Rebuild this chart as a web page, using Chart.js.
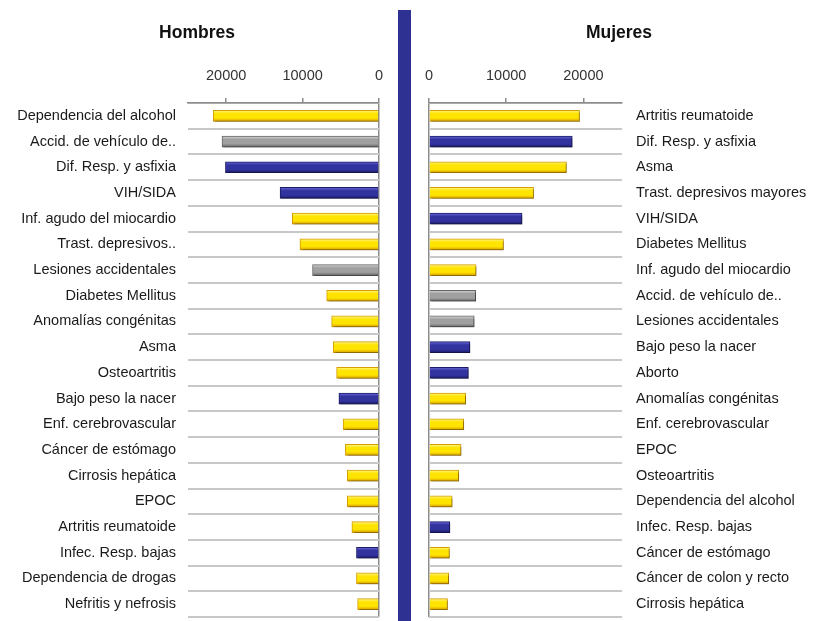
<!DOCTYPE html>
<html>
<head>
<meta charset="utf-8">
<script src="https://cdn.jsdelivr.net/npm/chart.js@4.4.1/dist/chart.umd.min.js"></script>
<style>
  body { margin: 0; background: #fff; width: 815px; height: 621px; overflow: hidden; position: relative; }
  #izq { position: absolute; left: 0; top: 0; }
  #der { position: absolute; left: 415px; top: 0; }
  #barra { position: absolute; left: 398px; top: 10px; width: 13px; height: 611px; background: #2e3192; }
</style>
</head>
<body>
<canvas id="izq" width="397" height="621"></canvas>
<div id="barra"></div>
<canvas id="der" width="400" height="621"></canvas>
<script>
// datos (AVISA por causa)
const ticksX = [0, 10000, 20000];

const causasHombres = ['Dependencia del alcohol', 'Accid. de vehículo de..', 'Dif. Resp. y asfixia', 'VIH/SIDA',
  'Inf. agudo del miocardio', 'Trast. depresivos..', 'Lesiones accidentales', 'Diabetes Mellitus',
  'Anomalías congénitas', 'Asma', 'Osteoartritis', 'Bajo peso la nacer', 'Enf. cerebrovascular',
  'Cáncer de estómago', 'Cirrosis hepática', 'EPOC', 'Artritis reumatoide', 'Infec. Resp. bajas',
  'Dependencia de drogas', 'Nefritis y nefrosis'];
const valoresHombres = [21700, 20550, 20100, 12950, 11350, 10350, 8700, 6850, 6200, 6000,
  5550, 5250, 4700, 4400, 4150, 4150, 3550, 2950, 2950, 2800];
// NT = no transmisibles, T = transmisibles/perinatales, L = lesiones
const grupoHombres = ['NT', 'L', 'T', 'T', 'NT', 'NT', 'L', 'NT', 'NT', 'NT',
  'NT', 'T', 'NT', 'NT', 'NT', 'NT', 'NT', 'T', 'NT', 'NT'];

const causasMujeres = ['Artritis reumatoide', 'Dif. Resp. y asfixia', 'Asma', 'Trast. depresivos mayores',
  'VIH/SIDA', 'Diabetes Mellitus', 'Inf. agudo del miocardio', 'Accid. de vehículo de..',
  'Lesiones accidentales', 'Bajo peso la nacer', 'Aborto', 'Anomalías congénitas', 'Enf. cerebrovascular',
  'EPOC', 'Osteoartritis', 'Dependencia del alcohol', 'Infec. Resp. bajas', 'Cáncer de estómago',
  'Cáncer de colon y recto', 'Cirrosis hepática'];
const valoresMujeres = [19500, 18550, 17800, 13550, 12050, 9650, 6100, 6050, 5850, 5300,
  5100, 4750, 4500, 4150, 3850, 3000, 2700, 2650, 2550, 2400];
const grupoMujeres = ['NT', 'T', 'NT', 'NT', 'T', 'NT', 'NT', 'L', 'L', 'T',
  'T', 'NT', 'NT', 'NT', 'NT', 'NT', 'T', 'NT', 'NT', 'NT'];

// colores por grupo: [claro, medio, oscuro]
const colores = {
  NT: ['#fff68a', '#ffe400', '#d69e00'],
  T: ['#6a6ad8', '#33339f', '#1c1c6a'],
  L: ['#d8d8d8', '#a0a0a0', '#666666']
};

const fuente = { family: "'Liberation Sans', Arial, sans-serif", size: 14.5 };

// sombra de las barras
const sombra = {
  id: 'sombra',
  beforeDatasetsDraw(chart) {
    const c = chart.ctx;
    c.save();
    c.shadowColor = 'rgba(0,0,0,0.35)';
    c.shadowBlur = 2;
    c.shadowOffsetX = 1.5;
    c.shadowOffsetY = 2;
  },
  afterDatasetsDraw(chart) {
    chart.ctx.restore();
  }
};

// titulo de cada lado
const tituloLado = {
  id: 'tituloLado',
  afterDraw(chart, args, opts) {
    const c = chart.ctx;
    c.save();
    c.font = "bold 17.5px 'Liberation Sans', Arial, sans-serif";
    c.fillStyle = '#111';
    c.textAlign = 'center';
    c.textBaseline = 'middle';
    c.fillText(opts.texto, opts.x, opts.y);
    c.restore();
  }
};

function crearGrafico(id, causas, valores, grupos, invertido, titulo, xTitulo) {
  const grosor = 11;
  new Chart(document.getElementById(id), {
    type: 'bar',
    data: {
      labels: causas,
      datasets: [{
        data: valores,
        barThickness: grosor,
        backgroundColor(ctx) {
          const cols = colores[grupos[ctx.dataIndex]];
          const chart = ctx.chart;
          if (!chart.chartArea) return cols[1];
          const yc = chart.scales.y.getPixelForValue(ctx.dataIndex);
          const g = chart.ctx.createLinearGradient(0, yc - grosor / 2, 0, yc + grosor / 2);
          g.addColorStop(0, cols[0]);
          g.addColorStop(0.3, cols[1]);
          g.addColorStop(0.7, cols[1]);
          g.addColorStop(1, cols[2]);
          return g;
        },
        borderColor: ctx => colores[grupos[ctx.dataIndex]][2],
        borderWidth: 1
      }]
    },
    options: {
      indexAxis: 'y',
      responsive: false,
      animation: false,
      layout: {
        padding: invertido ? { top: 50, right: 18, left: 0, bottom: 4 } : { top: 50, right: 0, left: 14, bottom: 4 }
      },
      plugins: {
        legend: { display: false },
        tooltip: { enabled: false },
        tituloLado: { texto: titulo, x: xTitulo, y: 33 }
      },
      scales: {
        x: {
          position: 'top',
          min: 0,
          max: 25000,
          reverse: invertido,
          afterFit(s) { s.height = 53; s.paddingLeft = 0; s.paddingRight = 0; },
          afterBuildTicks(s) { s.ticks = ticksX.map(v => ({ value: v })); },
          grid: {
            color: c => (c.tick && c.tick.value === 0) ? '#8c8c8c' : 'rgba(0,0,0,0)',
            tickColor: '#8c8c8c',
            tickLength: 5,
            lineWidth: 1.5
          },
          border: { display: true, color: '#8c8c8c', width: 1.5 },
          ticks: { color: '#333', font: fuente, padding: 13, callback: v => String(v) }
        },
        y: {
          position: invertido ? 'left' : 'right',
          afterFit(s) { s.width = invertido ? 188 : 193; s.paddingTop = 0; s.paddingBottom = 0; },
          grid: { offset: true, color: '#c8c8c8', lineWidth: 2, drawTicks: false },
          border: { display: false },
          ticks: { color: '#1a1a1a', font: fuente, padding: invertido ? 12 : 14, autoSkip: false }
        }
      }
    },
    plugins: [sombra, tituloLado]
  });
}

crearGrafico('izq', causasHombres, valoresHombres, grupoHombres, true, 'Hombres', 197);
crearGrafico('der', causasMujeres, valoresMujeres, grupoMujeres, false, 'Mujeres', 204);
</script>
</body>
</html>
